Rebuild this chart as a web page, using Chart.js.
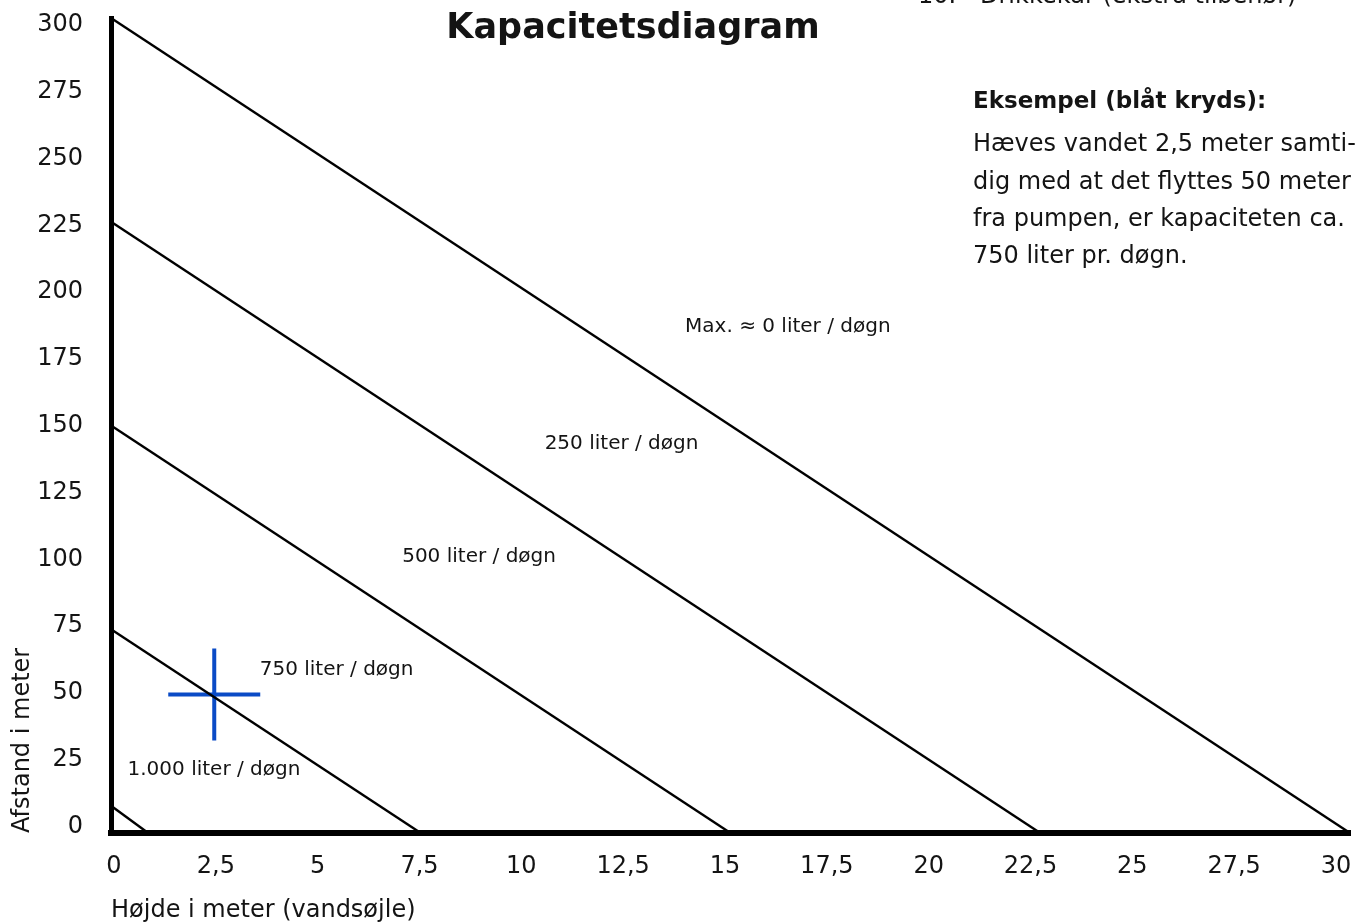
<!DOCTYPE html>
<html>
<head>
<meta charset="utf-8">
<script src="https://cdn.jsdelivr.net/npm/chart.js@4/dist/chart.umd.min.js"></script>
<style>
  html, body { margin: 0; padding: 0; background: #fff; }
  #wrap { width: 1357px; height: 923px; }
</style>
</head>
<body>
<div id="wrap"><canvas id="c" width="1357" height="923"></canvas></div>
<script>
// ---- data ----
const lineNames = ['Max. ≈ 0 liter / døgn', '250 liter / døgn', '500 liter / døgn', '750 liter / døgn', '1.000 liter / døgn'];
const distanceAtZeroHeight = [300, 225, 150, 75, 10];   // y-intercepts (meter)
const heightAtZeroDistance = [30, 22.5, 15, 7.5, 0.9];  // x-intercepts (meter)
const exampleHeight = [2.5];
const exampleDistance = [51];
const xTickLabels = ['0', '2,5', '5', '7,5', '10', '12,5', '15', '17,5', '20', '22,5', '25', '27,5', '30'];
const yTickLabels = ['0', '25', '50', '75', '100', '125', '150', '175', '200', '225', '250', '275', '300'];
const titleText = 'Kapacitetsdiagram';
const xTitle = 'Højde i meter (vandsøjle)';
const yTitle = 'Afstand i meter';
const exampleHeading = 'Eksempel (blåt kryds):';
const exampleLines = ['Hæves vandet 2,5 meter samti-', 'dig med at det flyttes 50 meter', 'fra pumpen, er kapaciteten ca.', '750 liter pr. døgn.'];
const topNote = ['10.', 'Drikkekar (ekstra tilbehør)'];

const FONT = '"DejaVu Sans", "Open Sans", sans-serif';
const INK = '#141414';

const datasets = lineNames.map((name, i) => ({
  label: name,
  data: [{x: 0, y: distanceAtZeroHeight[i]}, {x: heightAtZeroDistance[i], y: 0}],
  showLine: true,
  borderColor: '#000',
  borderWidth: 2.4,
  pointRadius: 0,
  pointHoverRadius: 0,
  clip: false,
  xAxisID: 'x',
  yAxisID: 'y'
}));
datasets.push({
  label: 'Eksempel',
  data: exampleHeight.map((h, i) => ({x: h, y: exampleDistance[i]})),
  showLine: false,
  pointStyle: 'cross',
  pointRadius: 46,
  pointHoverRadius: 46,
  pointBorderWidth: 4,
  pointBorderColor: '#0a4bc6',
  borderColor: '#0a4bc6',
  clip: false,
  xAxisID: 'x',
  yAxisID: 'y'
});

// label anchors in data coordinates (height, distance)
const labelAnchors = [[13.9, 186.5], [10.5, 143.3], [7.05, 101.8], [3.6, 60.2], [0.4, 23.2]];

const textPlugin = {
  id: 'texts',
  afterDatasetsDraw(chart) {
    const {ctx, scales: {x, y}} = chart;
    ctx.save();
    ctx.fillStyle = INK;
    ctx.textBaseline = 'middle';
    ctx.textAlign = 'left';
    ctx.font = '20px ' + FONT;
    lineNames.forEach((t, i) => {
      ctx.fillText(t, x.getPixelForValue(labelAnchors[i][0]), y.getPixelForValue(labelAnchors[i][1]));
    });
    // title
    ctx.textAlign = 'center';
    ctx.font = 'bold 35px ' + FONT;
    ctx.fillText(titleText, 633, 29);
    // clipped top line
    ctx.textAlign = 'left';
    ctx.textBaseline = 'alphabetic';
    ctx.font = '24px ' + FONT;
    ctx.fillText(topNote[0], 918, 3);
    ctx.fillText(topNote[1], 980, 3);
    // example text
    ctx.textBaseline = 'middle';
    ctx.font = 'bold 23px ' + FONT;
    ctx.fillText(exampleHeading, 973, 102);
    ctx.font = '24px ' + FONT;
    exampleLines.forEach((t, i) => ctx.fillText(t, 973, 145 + i * 37.4));
    ctx.restore();
  }
};

function noPad(s) { s.paddingTop = 0; s.paddingBottom = 0; s.paddingLeft = 0; s.paddingRight = 0; }

new Chart(document.getElementById('c'), {
  type: 'scatter',
  data: { datasets },
  plugins: [textPlugin],
  options: {
    responsive: false,
    animation: false,
    events: [],
    layout: { autoPadding: false, padding: { top: 18, right: 7, left: 0, bottom: 0 } },
    plugins: { legend: { display: false }, tooltip: { enabled: false }, title: { display: false } },
    scales: {
      x: {
        type: 'linear', position: 'bottom', weight: 0, min: 0, max: 30,
        grid: { display: false, drawTicks: false },
        border: { display: true, color: '#000', width: 6 },
        ticks: { display: false },
        afterFit(s) { s.height = 0; noPad(s); }
      },
      xl: {
        type: 'linear', position: 'bottom', weight: 1, min: -0.0737, max: 30.344,
        grid: { display: false, drawTicks: false },
        border: { display: false },
        ticks: {
          stepSize: 2.5, includeBounds: false, padding: 19, maxRotation: 0, autoSkip: false,
          color: INK, font: { family: FONT, size: 24 },
          callback: (v, i) => xTickLabels[i]
        },
        title: { display: true, text: xTitle, align: 'start', color: INK, font: { family: FONT, size: 24, lineHeight: 1 }, padding: { top: 0, bottom: 0 } },
        afterFit(s) { s.height = 90; noPad(s); }
      },
      y: {
        type: 'linear', position: 'left', weight: 0, min: 0, max: 300,
        grid: { display: false, drawTicks: false },
        border: { display: true, color: '#000', width: 5 },
        ticks: { display: false },
        afterFit(s) { s.width = 0; noPad(s); }
      },
      yl: {
        type: 'linear', position: 'left', weight: 1, min: -2.433, max: 302.6,
        grid: { display: false, drawTicks: false },
        border: { display: false },
        ticks: {
          stepSize: 25, includeBounds: false, padding: 28, autoSkip: false,
          color: INK, font: { family: FONT, size: 24 },
          callback: (v, i) => yTickLabels[i]
        },
        title: { display: true, text: yTitle, align: 'start', color: INK, font: { family: FONT, size: 24 }, padding: { top: 8, bottom: 0 } },
        afterFit(s) { s.width = 111; noPad(s); }
      }
    }
  }
});
</script>
</body>
</html>
